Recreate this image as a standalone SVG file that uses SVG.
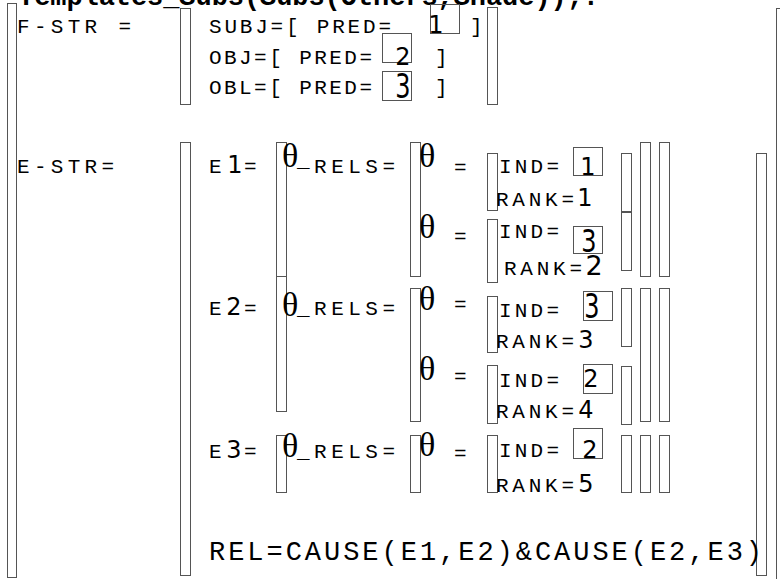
<svg xmlns="http://www.w3.org/2000/svg" width="780" height="579" viewBox="0 0 780 579">
<style>
rect{fill:#fff;stroke:#555;stroke-width:1}
rect.box{fill:none}
text{fill:#000}
.t{font-family:"Liberation Mono",monospace;font-size:21px}
.big{font-family:"Liberation Mono",monospace;font-size:27px}
.ttl{font-family:"Liberation Mono",monospace;font-size:27px;font-weight:bold}
.d{font-family:"DejaVu Sans",sans-serif;font-size:24px;text-anchor:middle}
.th{font-family:"Liberation Serif",serif;font-size:34px}
</style>
<rect width="780" height="579" style="fill:#fff;stroke:none"/>
<g id="title"><text class="ttl" x="18" y="5" textLength="581" lengthAdjust="spacing">Templates_Subs(Subs(Others,Shade));.</text></g>
<g id="frame">
<rect x="7.5" y="3.5" width="9" height="574"/>
<rect x="776.5" y="8.5" width="20" height="580"/>
</g>
<g id="f-str">
<rect x="180.5" y="8.5" width="10" height="96"/>
<rect x="487.5" y="7.5" width="10" height="97"/>
<rect class="box" x="430.5" y="4.5" width="29" height="29"/>
<rect class="box" x="382.5" y="33.5" width="29" height="29"/>
<rect class="box" x="382.5" y="71.5" width="29" height="29"/>
<text class="t" x="17" y="33" textLength="114" lengthAdjust="spacing">F-STR =</text>
<text class="t" x="209" y="33" textLength="182" lengthAdjust="spacing">SUBJ=[ PRED=</text>
<text class="d" x="436" y="33">1</text>
<text class="t" x="470" y="33">]</text>
<text class="t" x="209" y="64" textLength="163" lengthAdjust="spacing">OBJ=[ PRED=</text>
<text class="d" x="403" y="65">2</text>
<text class="t" x="435" y="64">]</text>
<text class="t" x="209" y="94" textLength="163" lengthAdjust="spacing">OBL=[ PRED=</text>
<text class="d" transform="translate(403,98) scale(1,1.4)">3</text>
<text class="t" x="435" y="94">]</text>
</g>
<g id="e-str">
<rect x="180.5" y="142.5" width="10" height="433"/>
<rect x="756.5" y="153.5" width="10" height="422"/>
<text class="t" x="17" y="173" textLength="97" lengthAdjust="spacing">E-STR=</text>
</g>
<g id="e1">
<rect x="276.5" y="142.5" width="10" height="134"/>
<rect x="410.5" y="142.5" width="10" height="134"/>
<rect x="487.5" y="153.5" width="10" height="57"/>
<rect x="487.5" y="219.5" width="10" height="63"/>
<rect x="621.5" y="153.5" width="10" height="58"/>
<rect x="621.5" y="212.5" width="10" height="58"/>
<rect x="640.5" y="142.5" width="10" height="134"/>
<rect x="659.5" y="142.5" width="10" height="134"/>
<rect class="box" x="573.5" y="147.5" width="29" height="28"/>
<rect class="box" x="573.5" y="226.5" width="29" height="27"/>
<text class="t" x="209" y="173">E</text>
<text class="d" x="235" y="173">1</text>
<text class="t" x="244" y="173">=</text>
<text class="th" x="282" y="167">θ</text>
<text class="t" x="297" y="173" textLength="98" lengthAdjust="spacing"><tspan dy="-6">_</tspan><tspan dy="6">RELS=</tspan></text>
<text class="th" x="419" y="167">θ</text>
<text class="t" x="454" y="174">=</text>
<text class="t" x="499" y="173" textLength="60" lengthAdjust="spacing">IND=</text>
<text class="d" x="588" y="175">1</text>
<text class="t" x="496" y="206" textLength="78" lengthAdjust="spacing">RANK=</text>
<text class="d" x="585" y="206">1</text>
<text class="th" x="419" y="238">θ</text>
<text class="t" x="454" y="243">=</text>
<text class="t" x="499" y="238" textLength="60" lengthAdjust="spacing">IND=</text>
<text class="d" transform="translate(589,252) scale(1,1.3)">3</text>
<text class="t" x="504" y="275" textLength="78" lengthAdjust="spacing">RANK=</text>
<text class="d" x="594" y="275" style="font-size:27px">2</text>
</g>
<g id="e2">
<rect x="276.5" y="276.5" width="10" height="135"/>
<rect x="410.5" y="288.5" width="10" height="133"/>
<rect x="487.5" y="296.5" width="10" height="56"/>
<rect x="487.5" y="365.5" width="10" height="58"/>
<rect x="621.5" y="288.5" width="10" height="58"/>
<rect x="621.5" y="366.5" width="10" height="58"/>
<rect x="640.5" y="288.5" width="10" height="133"/>
<rect x="659.5" y="288.5" width="10" height="133"/>
<rect class="box" x="583.5" y="291.5" width="29" height="29"/>
<rect class="box" x="583.5" y="364.5" width="29" height="29"/>
<text class="t" x="209" y="315">E</text>
<text class="d" x="234" y="315">2</text>
<text class="t" x="244" y="315">=</text>
<text class="th" x="282" y="316">θ</text>
<text class="t" x="297" y="315" textLength="98" lengthAdjust="spacing">_RELS=</text>
<text class="th" x="419" y="310">θ</text>
<text class="t" x="454" y="311">=</text>
<text class="t" x="499" y="317" textLength="60" lengthAdjust="spacing">IND=</text>
<text class="d" transform="translate(592,318) scale(1,1.4)">3</text>
<text class="t" x="496" y="348" textLength="78" lengthAdjust="spacing">RANK=</text>
<text class="d" x="586" y="348">3</text>
<text class="th" x="419" y="380">θ</text>
<text class="t" x="454" y="383">=</text>
<text class="t" x="499" y="387" textLength="60" lengthAdjust="spacing">IND=</text>
<text class="d" x="591" y="387">2</text>
<text class="t" x="496" y="418" textLength="78" lengthAdjust="spacing">RANK=</text>
<text class="d" x="586" y="418">4</text>
</g>
<g id="e3">
<rect x="276.5" y="435.5" width="10" height="57"/>
<rect x="410.5" y="435.5" width="10" height="57"/>
<rect x="487.5" y="435.5" width="10" height="57"/>
<rect x="621.5" y="435.5" width="10" height="57"/>
<rect x="640.5" y="435.5" width="10" height="57"/>
<rect x="659.5" y="435.5" width="10" height="57"/>
<rect class="box" x="573.5" y="428.5" width="29" height="30"/>
<text class="t" x="209" y="458">E</text>
<text class="d" x="234" y="458">3</text>
<text class="t" x="244" y="458">=</text>
<text class="th" x="282" y="457">θ</text>
<text class="t" x="297" y="458" textLength="98" lengthAdjust="spacing">_RELS=</text>
<text class="th" x="419" y="456">θ</text>
<text class="t" x="454" y="460">=</text>
<text class="t" x="499" y="457" textLength="60" lengthAdjust="spacing">IND=</text>
<text class="d" x="590" y="458">2</text>
<text class="t" x="496" y="492" textLength="78" lengthAdjust="spacing">RANK=</text>
<text class="d" x="586" y="492">5</text>
</g>
<g id="rel">
<text class="big" x="209" y="560" textLength="553" lengthAdjust="spacing">REL=CAUSE(E1,E2)&amp;CAUSE(E2,E3)</text>
</g>
<g id="connectors"/>
</svg>
